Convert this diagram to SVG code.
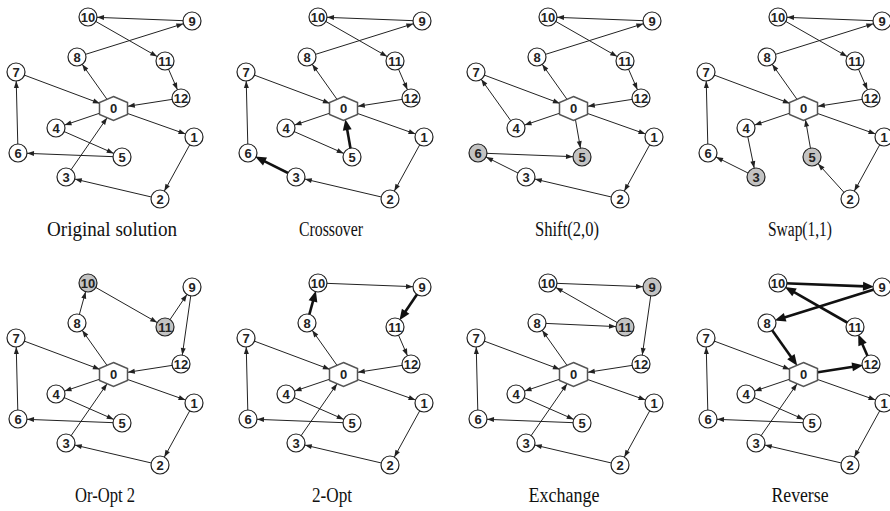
<svg xmlns="http://www.w3.org/2000/svg" width="890" height="511" viewBox="0 0 890 511">
<defs>
<style>
.e{stroke:#222;stroke-width:1;fill:none;marker-end:url(#t)}
.eh{stroke:#222;stroke-width:1;fill:none;marker-end:url(#th)}
.ev{stroke:#222;stroke-width:1;fill:none;marker-end:url(#tv)}
.b{stroke:#111;stroke-width:2.6;fill:none;marker-end:url(#b)}
.nd circle{fill:#fff;stroke:#222;stroke-width:1.2}
.nd.g circle{fill:#c3c3c3}
.nd polygon{fill:#fff;stroke:#555;stroke-width:1.5}
.nd text{font-family:"Liberation Sans",Arial,sans-serif;font-weight:bold;font-size:13px;text-anchor:middle;fill:#222}
.cap{font-family:"Liberation Serif","Times New Roman",serif;font-size:20px;text-anchor:middle;fill:#111}
</style>
<marker id="t" markerUnits="userSpaceOnUse" markerWidth="7" markerHeight="5" refX="16" refY="2.5" orient="auto" style="overflow:visible"><path d="M0,0 L7,2.5 L0,5 z" fill="#222"/></marker>
<marker id="th" markerUnits="userSpaceOnUse" markerWidth="7" markerHeight="5" refX="21.5" refY="2.5" orient="auto" style="overflow:visible"><path d="M0,0 L7,2.5 L0,5 z" fill="#222"/></marker>
<marker id="tv" markerUnits="userSpaceOnUse" markerWidth="7" markerHeight="5" refX="18.3" refY="2.5" orient="auto" style="overflow:visible"><path d="M0,0 L7,2.5 L0,5 z" fill="#222"/></marker>
<marker id="b" markerUnits="userSpaceOnUse" markerWidth="11" markerHeight="9" refX="2.5" refY="4.5" orient="auto" style="overflow:visible"><path d="M0,0 L11,4.5 L0,9 z" fill="#111"/></marker>
</defs>

<!-- Panel 1: Original solution -->
<g id="p1">
<g id="p1-edges">
<line class="e" x1="113.5" y1="108.5" x2="77" y2="57"/>
<line class="e" x1="77" y1="57" x2="192" y2="21"/>
<line class="e" x1="192" y1="21" x2="88" y2="17"/>
<line class="e" x1="88" y1="17" x2="165" y2="61"/>
<line class="e" x1="165" y1="61" x2="181" y2="98"/>
<line class="eh" x1="181" y1="98" x2="113.5" y2="108.5"/>
<line class="e" x1="113.5" y1="108.5" x2="56" y2="128"/>
<line class="e" x1="56" y1="128" x2="122" y2="157"/>
<line class="e" x1="122" y1="157" x2="18" y2="153"/>
<line class="e" x1="18" y1="153" x2="16" y2="72"/>
<line class="eh" x1="16" y1="72" x2="113.5" y2="108.5"/>
<line class="e" x1="113.5" y1="108.5" x2="194" y2="137"/>
<line class="e" x1="194" y1="137" x2="160" y2="199"/>
<line class="e" x1="160" y1="199" x2="66" y2="177"/>
<line class="ev" x1="66" y1="177" x2="113.5" y2="108.5"/>
</g>
<g id="p1-n0" class="nd"><polygon points="113.5,96.5 127.5,102.5 127.5,114.5 113.5,120.5 99.5,114.5 99.5,102.5"/><text x="113.5" y="113.2">0</text></g>
<g id="p1-n1" class="nd"><circle cx="194" cy="137" r="9"/><text x="194" y="141.7">1</text></g>
<g id="p1-n2" class="nd"><circle cx="160" cy="199" r="9"/><text x="160" y="203.7">2</text></g>
<g id="p1-n3" class="nd"><circle cx="66" cy="177" r="9"/><text x="66" y="181.7">3</text></g>
<g id="p1-n4" class="nd"><circle cx="56" cy="128" r="9"/><text x="56" y="132.7">4</text></g>
<g id="p1-n5" class="nd"><circle cx="122" cy="157" r="9"/><text x="122" y="161.7">5</text></g>
<g id="p1-n6" class="nd"><circle cx="18" cy="153" r="9"/><text x="18" y="157.7">6</text></g>
<g id="p1-n7" class="nd"><circle cx="16" cy="72" r="9"/><text x="16" y="76.7">7</text></g>
<g id="p1-n8" class="nd"><circle cx="77" cy="57" r="9"/><text x="77" y="61.7">8</text></g>
<g id="p1-n9" class="nd"><circle cx="192" cy="21" r="9"/><text x="192" y="25.7">9</text></g>
<g id="p1-n10" class="nd"><circle cx="88" cy="17" r="9"/><text x="88" y="21.7">10</text></g>
<g id="p1-n11" class="nd"><circle cx="165" cy="61" r="9"/><text x="165" y="65.7">11</text></g>
<g id="p1-n12" class="nd"><circle cx="181" cy="98" r="9"/><text x="181" y="102.7">12</text></g>
<text class="cap" x="112" y="236" textLength="130" lengthAdjust="spacingAndGlyphs">Original solution</text>
</g>

<!-- Panel 2: Crossover -->
<g id="p2" transform="translate(230,0)">
<g id="p2-edges">
<line class="e" x1="113.5" y1="108.5" x2="77" y2="57"/>
<line class="e" x1="77" y1="57" x2="192" y2="21"/>
<line class="e" x1="192" y1="21" x2="88" y2="17"/>
<line class="e" x1="88" y1="17" x2="165" y2="61"/>
<line class="e" x1="165" y1="61" x2="181" y2="98"/>
<line class="eh" x1="181" y1="98" x2="113.5" y2="108.5"/>
<line class="e" x1="113.5" y1="108.5" x2="56" y2="128"/>
<line class="e" x1="56" y1="128" x2="122" y2="157"/>
<line class="e" x1="18" y1="153" x2="16" y2="72"/>
<line class="eh" x1="16" y1="72" x2="113.5" y2="108.5"/>
<line class="e" x1="113.5" y1="108.5" x2="194" y2="137"/>
<line class="e" x1="194" y1="137" x2="160" y2="199"/>
<line class="e" x1="160" y1="199" x2="66" y2="177"/>
<line class="b" x1="66" y1="177" x2="32.76" y2="160.38"/>
<line class="b" x1="122" y1="157" x2="116.83" y2="127.51"/>
</g>
<g id="p2-n0" class="nd"><polygon points="113.5,96.5 127.5,102.5 127.5,114.5 113.5,120.5 99.5,114.5 99.5,102.5"/><text x="113.5" y="113.2">0</text></g>
<g id="p2-n1" class="nd"><circle cx="194" cy="137" r="9"/><text x="194" y="141.7">1</text></g>
<g id="p2-n2" class="nd"><circle cx="160" cy="199" r="9"/><text x="160" y="203.7">2</text></g>
<g id="p2-n3" class="nd"><circle cx="66" cy="177" r="9"/><text x="66" y="181.7">3</text></g>
<g id="p2-n4" class="nd"><circle cx="56" cy="128" r="9"/><text x="56" y="132.7">4</text></g>
<g id="p2-n5" class="nd"><circle cx="122" cy="157" r="9"/><text x="122" y="161.7">5</text></g>
<g id="p2-n6" class="nd"><circle cx="18" cy="153" r="9"/><text x="18" y="157.7">6</text></g>
<g id="p2-n7" class="nd"><circle cx="16" cy="72" r="9"/><text x="16" y="76.7">7</text></g>
<g id="p2-n8" class="nd"><circle cx="77" cy="57" r="9"/><text x="77" y="61.7">8</text></g>
<g id="p2-n9" class="nd"><circle cx="192" cy="21" r="9"/><text x="192" y="25.7">9</text></g>
<g id="p2-n10" class="nd"><circle cx="88" cy="17" r="9"/><text x="88" y="21.7">10</text></g>
<g id="p2-n11" class="nd"><circle cx="165" cy="61" r="9"/><text x="165" y="65.7">11</text></g>
<g id="p2-n12" class="nd"><circle cx="181" cy="98" r="9"/><text x="181" y="102.7">12</text></g>
<text class="cap" x="101" y="236" textLength="64" lengthAdjust="spacingAndGlyphs">Crossover</text>
</g>

<!-- Panel 3: Shift(2,0) -->
<g id="p3" transform="translate(460,0)">
<g id="p3-edges">
<line class="e" x1="113.5" y1="108.5" x2="77" y2="57"/>
<line class="e" x1="77" y1="57" x2="192" y2="21"/>
<line class="e" x1="192" y1="21" x2="88" y2="17"/>
<line class="e" x1="88" y1="17" x2="165" y2="61"/>
<line class="e" x1="165" y1="61" x2="181" y2="98"/>
<line class="eh" x1="181" y1="98" x2="113.5" y2="108.5"/>
<line class="e" x1="113.5" y1="108.5" x2="56" y2="128"/>
<line class="e" x1="56" y1="128" x2="16" y2="72"/>
<line class="eh" x1="16" y1="72" x2="113.5" y2="108.5"/>
<line class="e" x1="113.5" y1="108.5" x2="122" y2="157"/>
<line class="e" x1="18" y1="153" x2="122" y2="157"/>
<line class="e" x1="66" y1="177" x2="18" y2="153"/>
<line class="e" x1="113.5" y1="108.5" x2="194" y2="137"/>
<line class="e" x1="194" y1="137" x2="160" y2="199"/>
<line class="e" x1="160" y1="199" x2="66" y2="177"/>
</g>
<g id="p3-n0" class="nd"><polygon points="113.5,96.5 127.5,102.5 127.5,114.5 113.5,120.5 99.5,114.5 99.5,102.5"/><text x="113.5" y="113.2">0</text></g>
<g id="p3-n1" class="nd"><circle cx="194" cy="137" r="9"/><text x="194" y="141.7">1</text></g>
<g id="p3-n2" class="nd"><circle cx="160" cy="199" r="9"/><text x="160" y="203.7">2</text></g>
<g id="p3-n3" class="nd"><circle cx="66" cy="177" r="9"/><text x="66" y="181.7">3</text></g>
<g id="p3-n4" class="nd"><circle cx="56" cy="128" r="9"/><text x="56" y="132.7">4</text></g>
<g id="p3-n5" class="nd g"><circle cx="122" cy="157" r="9"/><text x="122" y="161.7">5</text></g>
<g id="p3-n6" class="nd g"><circle cx="18" cy="153" r="9"/><text x="18" y="157.7">6</text></g>
<g id="p3-n7" class="nd"><circle cx="16" cy="72" r="9"/><text x="16" y="76.7">7</text></g>
<g id="p3-n8" class="nd"><circle cx="77" cy="57" r="9"/><text x="77" y="61.7">8</text></g>
<g id="p3-n9" class="nd"><circle cx="192" cy="21" r="9"/><text x="192" y="25.7">9</text></g>
<g id="p3-n10" class="nd"><circle cx="88" cy="17" r="9"/><text x="88" y="21.7">10</text></g>
<g id="p3-n11" class="nd"><circle cx="165" cy="61" r="9"/><text x="165" y="65.7">11</text></g>
<g id="p3-n12" class="nd"><circle cx="181" cy="98" r="9"/><text x="181" y="102.7">12</text></g>
<text class="cap" x="107" y="236" textLength="64" lengthAdjust="spacingAndGlyphs">Shift(2,0)</text>
</g>

<!-- Panel 4: Swap(1,1) -->
<g id="p4" transform="translate(690,0)">
<g id="p4-edges">
<line class="e" x1="113.5" y1="108.5" x2="77" y2="57"/>
<line class="e" x1="77" y1="57" x2="192" y2="21"/>
<line class="e" x1="192" y1="21" x2="88" y2="17"/>
<line class="e" x1="88" y1="17" x2="165" y2="61"/>
<line class="e" x1="165" y1="61" x2="181" y2="98"/>
<line class="eh" x1="181" y1="98" x2="113.5" y2="108.5"/>
<line class="e" x1="113.5" y1="108.5" x2="56" y2="128"/>
<line class="e" x1="56" y1="128" x2="66" y2="177"/>
<line class="e" x1="66" y1="177" x2="18" y2="153"/>
<line class="e" x1="18" y1="153" x2="16" y2="72"/>
<line class="eh" x1="16" y1="72" x2="113.5" y2="108.5"/>
<line class="e" x1="113.5" y1="108.5" x2="194" y2="137"/>
<line class="e" x1="194" y1="137" x2="160" y2="199"/>
<line class="e" x1="160" y1="199" x2="122" y2="157"/>
<line class="ev" x1="122" y1="157" x2="113.5" y2="108.5"/>
</g>
<g id="p4-n0" class="nd"><polygon points="113.5,96.5 127.5,102.5 127.5,114.5 113.5,120.5 99.5,114.5 99.5,102.5"/><text x="113.5" y="113.2">0</text></g>
<g id="p4-n1" class="nd"><circle cx="194" cy="137" r="9"/><text x="194" y="141.7">1</text></g>
<g id="p4-n2" class="nd"><circle cx="160" cy="199" r="9"/><text x="160" y="203.7">2</text></g>
<g id="p4-n3" class="nd g"><circle cx="66" cy="177" r="9"/><text x="66" y="181.7">3</text></g>
<g id="p4-n4" class="nd"><circle cx="56" cy="128" r="9"/><text x="56" y="132.7">4</text></g>
<g id="p4-n5" class="nd g"><circle cx="122" cy="157" r="9"/><text x="122" y="161.7">5</text></g>
<g id="p4-n6" class="nd"><circle cx="18" cy="153" r="9"/><text x="18" y="157.7">6</text></g>
<g id="p4-n7" class="nd"><circle cx="16" cy="72" r="9"/><text x="16" y="76.7">7</text></g>
<g id="p4-n8" class="nd"><circle cx="77" cy="57" r="9"/><text x="77" y="61.7">8</text></g>
<g id="p4-n9" class="nd"><circle cx="192" cy="21" r="9"/><text x="192" y="25.7">9</text></g>
<g id="p4-n10" class="nd"><circle cx="88" cy="17" r="9"/><text x="88" y="21.7">10</text></g>
<g id="p4-n11" class="nd"><circle cx="165" cy="61" r="9"/><text x="165" y="65.7">11</text></g>
<g id="p4-n12" class="nd"><circle cx="181" cy="98" r="9"/><text x="181" y="102.7">12</text></g>
<text class="cap" x="110" y="236" textLength="64" lengthAdjust="spacingAndGlyphs">Swap(1,1)</text>
</g>

<!-- Panel 5: Or-Opt 2 -->
<g id="p5" transform="translate(0,266)">
<g id="p5-edges">
<line class="e" x1="113.5" y1="108.5" x2="77" y2="57"/>
<line class="e" x1="77" y1="57" x2="88" y2="17"/>
<line class="e" x1="88" y1="17" x2="165" y2="61"/>
<line class="e" x1="165" y1="61" x2="192" y2="21"/>
<line class="e" x1="192" y1="21" x2="181" y2="98"/>
<line class="eh" x1="181" y1="98" x2="113.5" y2="108.5"/>
<line class="e" x1="113.5" y1="108.5" x2="56" y2="128"/>
<line class="e" x1="56" y1="128" x2="122" y2="157"/>
<line class="e" x1="122" y1="157" x2="18" y2="153"/>
<line class="e" x1="18" y1="153" x2="16" y2="72"/>
<line class="eh" x1="16" y1="72" x2="113.5" y2="108.5"/>
<line class="e" x1="113.5" y1="108.5" x2="194" y2="137"/>
<line class="e" x1="194" y1="137" x2="160" y2="199"/>
<line class="e" x1="160" y1="199" x2="66" y2="177"/>
<line class="ev" x1="66" y1="177" x2="113.5" y2="108.5"/>
</g>
<g id="p5-n0" class="nd"><polygon points="113.5,96.5 127.5,102.5 127.5,114.5 113.5,120.5 99.5,114.5 99.5,102.5"/><text x="113.5" y="113.2">0</text></g>
<g id="p5-n1" class="nd"><circle cx="194" cy="137" r="9"/><text x="194" y="141.7">1</text></g>
<g id="p5-n2" class="nd"><circle cx="160" cy="199" r="9"/><text x="160" y="203.7">2</text></g>
<g id="p5-n3" class="nd"><circle cx="66" cy="177" r="9"/><text x="66" y="181.7">3</text></g>
<g id="p5-n4" class="nd"><circle cx="56" cy="128" r="9"/><text x="56" y="132.7">4</text></g>
<g id="p5-n5" class="nd"><circle cx="122" cy="157" r="9"/><text x="122" y="161.7">5</text></g>
<g id="p5-n6" class="nd"><circle cx="18" cy="153" r="9"/><text x="18" y="157.7">6</text></g>
<g id="p5-n7" class="nd"><circle cx="16" cy="72" r="9"/><text x="16" y="76.7">7</text></g>
<g id="p5-n8" class="nd"><circle cx="77" cy="57" r="9"/><text x="77" y="61.7">8</text></g>
<g id="p5-n9" class="nd"><circle cx="192" cy="21" r="9"/><text x="192" y="25.7">9</text></g>
<g id="p5-n10" class="nd g"><circle cx="88" cy="17" r="9"/><text x="88" y="21.7">10</text></g>
<g id="p5-n11" class="nd g"><circle cx="165" cy="61" r="9"/><text x="165" y="65.7">11</text></g>
<g id="p5-n12" class="nd"><circle cx="181" cy="98" r="9"/><text x="181" y="102.7">12</text></g>
<text class="cap" x="105" y="236" textLength="60" lengthAdjust="spacingAndGlyphs">Or-Opt 2</text>
</g>

<!-- Panel 6: 2-Opt -->
<g id="p6" transform="translate(230,266)">
<g id="p6-edges">
<line class="e" x1="113.5" y1="108.5" x2="77" y2="57"/>
<line class="b" x1="77" y1="57" x2="83.62" y2="32.91"/>
<line class="e" x1="88" y1="17" x2="192" y2="21"/>
<line class="b" x1="192" y1="21" x2="174.23" y2="47.32"/>
<line class="e" x1="165" y1="61" x2="181" y2="98"/>
<line class="eh" x1="181" y1="98" x2="113.5" y2="108.5"/>
<line class="e" x1="113.5" y1="108.5" x2="56" y2="128"/>
<line class="e" x1="56" y1="128" x2="122" y2="157"/>
<line class="e" x1="122" y1="157" x2="18" y2="153"/>
<line class="e" x1="18" y1="153" x2="16" y2="72"/>
<line class="eh" x1="16" y1="72" x2="113.5" y2="108.5"/>
<line class="e" x1="113.5" y1="108.5" x2="194" y2="137"/>
<line class="e" x1="194" y1="137" x2="160" y2="199"/>
<line class="e" x1="160" y1="199" x2="66" y2="177"/>
<line class="ev" x1="66" y1="177" x2="113.5" y2="108.5"/>
</g>
<g id="p6-n0" class="nd"><polygon points="113.5,96.5 127.5,102.5 127.5,114.5 113.5,120.5 99.5,114.5 99.5,102.5"/><text x="113.5" y="113.2">0</text></g>
<g id="p6-n1" class="nd"><circle cx="194" cy="137" r="9"/><text x="194" y="141.7">1</text></g>
<g id="p6-n2" class="nd"><circle cx="160" cy="199" r="9"/><text x="160" y="203.7">2</text></g>
<g id="p6-n3" class="nd"><circle cx="66" cy="177" r="9"/><text x="66" y="181.7">3</text></g>
<g id="p6-n4" class="nd"><circle cx="56" cy="128" r="9"/><text x="56" y="132.7">4</text></g>
<g id="p6-n5" class="nd"><circle cx="122" cy="157" r="9"/><text x="122" y="161.7">5</text></g>
<g id="p6-n6" class="nd"><circle cx="18" cy="153" r="9"/><text x="18" y="157.7">6</text></g>
<g id="p6-n7" class="nd"><circle cx="16" cy="72" r="9"/><text x="16" y="76.7">7</text></g>
<g id="p6-n8" class="nd"><circle cx="77" cy="57" r="9"/><text x="77" y="61.7">8</text></g>
<g id="p6-n9" class="nd"><circle cx="192" cy="21" r="9"/><text x="192" y="25.7">9</text></g>
<g id="p6-n10" class="nd"><circle cx="88" cy="17" r="9"/><text x="88" y="21.7">10</text></g>
<g id="p6-n11" class="nd"><circle cx="165" cy="61" r="9"/><text x="165" y="65.7">11</text></g>
<g id="p6-n12" class="nd"><circle cx="181" cy="98" r="9"/><text x="181" y="102.7">12</text></g>
<text class="cap" x="102" y="236" textLength="40" lengthAdjust="spacingAndGlyphs">2-Opt</text>
</g>

<!-- Panel 7: Exchange -->
<g id="p7" transform="translate(460,266)">
<g id="p7-edges">
<line class="e" x1="113.5" y1="108.5" x2="77" y2="57"/>
<line class="e" x1="77" y1="57" x2="165" y2="61"/>
<line class="e" x1="165" y1="61" x2="88" y2="17"/>
<line class="e" x1="88" y1="17" x2="192" y2="21"/>
<line class="e" x1="192" y1="21" x2="181" y2="98"/>
<line class="eh" x1="181" y1="98" x2="113.5" y2="108.5"/>
<line class="e" x1="113.5" y1="108.5" x2="56" y2="128"/>
<line class="e" x1="56" y1="128" x2="122" y2="157"/>
<line class="e" x1="122" y1="157" x2="18" y2="153"/>
<line class="e" x1="18" y1="153" x2="16" y2="72"/>
<line class="eh" x1="16" y1="72" x2="113.5" y2="108.5"/>
<line class="e" x1="113.5" y1="108.5" x2="194" y2="137"/>
<line class="e" x1="194" y1="137" x2="160" y2="199"/>
<line class="e" x1="160" y1="199" x2="66" y2="177"/>
<line class="ev" x1="66" y1="177" x2="113.5" y2="108.5"/>
</g>
<g id="p7-n0" class="nd"><polygon points="113.5,96.5 127.5,102.5 127.5,114.5 113.5,120.5 99.5,114.5 99.5,102.5"/><text x="113.5" y="113.2">0</text></g>
<g id="p7-n1" class="nd"><circle cx="194" cy="137" r="9"/><text x="194" y="141.7">1</text></g>
<g id="p7-n2" class="nd"><circle cx="160" cy="199" r="9"/><text x="160" y="203.7">2</text></g>
<g id="p7-n3" class="nd"><circle cx="66" cy="177" r="9"/><text x="66" y="181.7">3</text></g>
<g id="p7-n4" class="nd"><circle cx="56" cy="128" r="9"/><text x="56" y="132.7">4</text></g>
<g id="p7-n5" class="nd"><circle cx="122" cy="157" r="9"/><text x="122" y="161.7">5</text></g>
<g id="p7-n6" class="nd"><circle cx="18" cy="153" r="9"/><text x="18" y="157.7">6</text></g>
<g id="p7-n7" class="nd"><circle cx="16" cy="72" r="9"/><text x="16" y="76.7">7</text></g>
<g id="p7-n8" class="nd"><circle cx="77" cy="57" r="9"/><text x="77" y="61.7">8</text></g>
<g id="p7-n9" class="nd g"><circle cx="192" cy="21" r="9"/><text x="192" y="25.7">9</text></g>
<g id="p7-n10" class="nd"><circle cx="88" cy="17" r="9"/><text x="88" y="21.7">10</text></g>
<g id="p7-n11" class="nd g"><circle cx="165" cy="61" r="9"/><text x="165" y="65.7">11</text></g>
<g id="p7-n12" class="nd"><circle cx="181" cy="98" r="9"/><text x="181" y="102.7">12</text></g>
<text class="cap" x="104" y="236" textLength="71" lengthAdjust="spacingAndGlyphs">Exchange</text>
</g>

<!-- Panel 8: Reverse -->
<g id="p8" transform="translate(690,266)">
<g id="p8-edges">
<line class="b" x1="113.5" y1="108.5" x2="164.7" y2="100.54"/>
<line class="b" x1="181" y1="98" x2="171.55" y2="76.15"/>
<line class="b" x1="165" y1="61" x2="102.33" y2="25.19"/>
<line class="b" x1="88" y1="17" x2="175.51" y2="20.37"/>
<line class="b" x1="192" y1="21" x2="92.75" y2="52.07"/>
<line class="b" x1="77" y1="57" x2="102.34" y2="92.75"/>
<line class="e" x1="113.5" y1="108.5" x2="56" y2="128"/>
<line class="e" x1="56" y1="128" x2="122" y2="157"/>
<line class="e" x1="122" y1="157" x2="18" y2="153"/>
<line class="e" x1="18" y1="153" x2="16" y2="72"/>
<line class="eh" x1="16" y1="72" x2="113.5" y2="108.5"/>
<line class="e" x1="113.5" y1="108.5" x2="194" y2="137"/>
<line class="e" x1="194" y1="137" x2="160" y2="199"/>
<line class="e" x1="160" y1="199" x2="66" y2="177"/>
<line class="ev" x1="66" y1="177" x2="113.5" y2="108.5"/>
</g>
<g id="p8-n0" class="nd"><polygon points="113.5,96.5 127.5,102.5 127.5,114.5 113.5,120.5 99.5,114.5 99.5,102.5"/><text x="113.5" y="113.2">0</text></g>
<g id="p8-n1" class="nd"><circle cx="194" cy="137" r="9"/><text x="194" y="141.7">1</text></g>
<g id="p8-n2" class="nd"><circle cx="160" cy="199" r="9"/><text x="160" y="203.7">2</text></g>
<g id="p8-n3" class="nd"><circle cx="66" cy="177" r="9"/><text x="66" y="181.7">3</text></g>
<g id="p8-n4" class="nd"><circle cx="56" cy="128" r="9"/><text x="56" y="132.7">4</text></g>
<g id="p8-n5" class="nd"><circle cx="122" cy="157" r="9"/><text x="122" y="161.7">5</text></g>
<g id="p8-n6" class="nd"><circle cx="18" cy="153" r="9"/><text x="18" y="157.7">6</text></g>
<g id="p8-n7" class="nd"><circle cx="16" cy="72" r="9"/><text x="16" y="76.7">7</text></g>
<g id="p8-n8" class="nd"><circle cx="77" cy="57" r="9"/><text x="77" y="61.7">8</text></g>
<g id="p8-n9" class="nd"><circle cx="192" cy="21" r="9"/><text x="192" y="25.7">9</text></g>
<g id="p8-n10" class="nd"><circle cx="88" cy="17" r="9"/><text x="88" y="21.7">10</text></g>
<g id="p8-n11" class="nd"><circle cx="165" cy="61" r="9"/><text x="165" y="65.7">11</text></g>
<g id="p8-n12" class="nd"><circle cx="181" cy="98" r="9"/><text x="181" y="102.7">12</text></g>
<text class="cap" x="110" y="236" textLength="57" lengthAdjust="spacingAndGlyphs">Reverse</text>
</g>
</svg>
